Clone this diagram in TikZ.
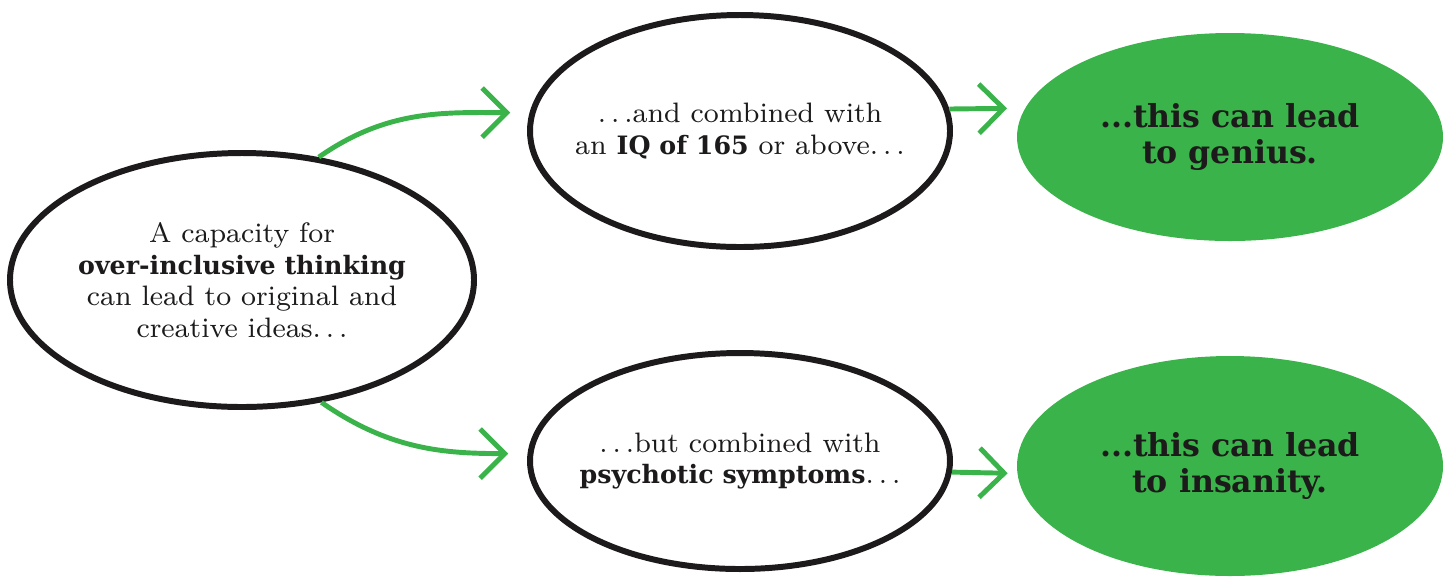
\documentclass[tikz,border=0pt]{standalone}
\usepackage{fontspec}
\usetikzlibrary{positioning}
\usetikzlibrary{arrows.meta}
\usetikzlibrary{shapes.geometric}
\newfontfamily\slabfont{DejaVu Serif}
\newcommand{\hl}[1]{{\slabfont\bfseries\fontsize{7.2}{9}\selectfont #1}}
\newcommand{\trail}{$\ldots$}
\definecolor{leafgreen}{RGB}{58,180,74}
\definecolor{inkblack}{RGB}{28,26,26}

\begin{document}
\begin{tikzpicture}[
    bubble/.style={ellipse, draw=inkblack, line width=1.7pt, inner xsep=-10pt,
      inner ysep=0pt, align=center, text=inkblack, font=\fontsize{8}{9}\selectfont},
    outcome/.style={ellipse, fill=leafgreen, inner xsep=-10pt, inner ysep=0pt,
      align=center, text=inkblack, font=\slabfont\bfseries\fontsize{9}{10}\selectfont},
    flow/.style={draw=leafgreen, line width=1.4pt,
      -{Straight Barb[length=7pt,width=14pt]}}]
    \useasboundingbox (0,0) rectangle (14.52,5.76);

    \node[bubble, minimum width=4.64cm, minimum height=2.54cm] (start) at (2.42,2.96)
      {A capacity for\\ \hl{over-inclusive thinking}\\ can lead to original and\\ creative ideas\trail};

    \node[bubble, minimum width=4.2cm, minimum height=2.32cm] (iq) at (7.40,4.45)
      {\trail and combined with\\ an \hl{IQ of 165} or above\trail};
    \node[bubble, minimum width=4.2cm, minimum height=2.16cm] (psy) at (7.40,1.15)
      {\trail but combined with\\ \hl{psychotic symptoms}\trail};

    \node[outcome, minimum width=4.26cm, minimum height=2.08cm] (genius) at (12.30,4.39)
      {...this can lead\\ to genius.};
    \node[outcome, minimum width=4.26cm, minimum height=2.2cm] (insanity) at (12.30,1.10)
      {...this can lead\\ to insanity.};

    \draw[flow, shorten >=5.5pt] (start.58) to[out=35, in=180] (iq.175);
    \draw[flow, shorten >=5.5pt] (start.-57) to[out=-35, in=180] (psy.178);
    \draw[flow, shorten >=5pt] (iq.6) -- (genius.172);
    \draw[flow, shorten >=2.6pt] (psy.-3) -- (insanity.-178);
\end{tikzpicture}
\end{document}
